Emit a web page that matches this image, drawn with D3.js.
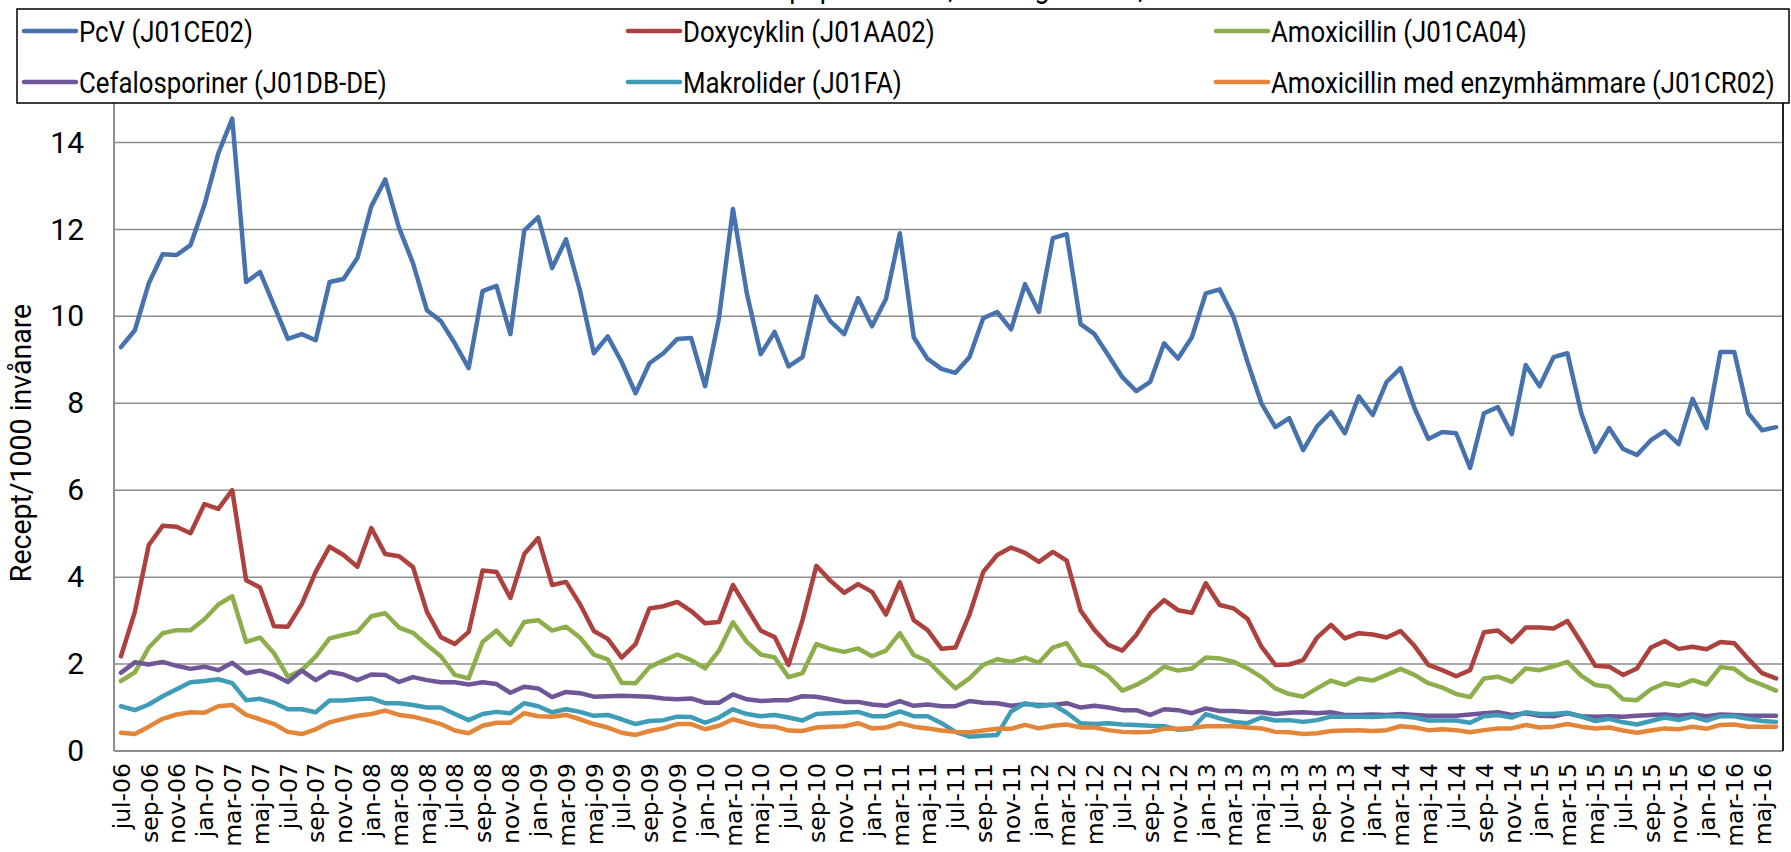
<!DOCTYPE html>
<html>
<head>
<meta charset="utf-8">
<script src="https://cdn.jsdelivr.net/npm/d3@7"></script>
<style>
  body { margin: 0; background: #fff; }
  svg { display: block; }
  .ytick text, .legend text, .ytitle, .title { font-family: "Roboto", "Liberation Sans", sans-serif; }
  .xaxis text { font-family: "DejaVu Sans", sans-serif; }
</style>
</head>
<body>
<div id="chart"></div>
<script>
// month names + start of the series
const monthNames = ["jan","feb","mar","apr","maj","jun","jul","aug","sep","okt","nov","dec"]
const startMonth = 6, startYear = 2006, nMonths = 120
const yTicks = [0, 2, 4, 6, 8, 10, 12, 14]

const seriesNames = ["PcV (J01CE02)", "Doxycyklin (J01AA02)", "Amoxicillin (J01CA04)",
  "Cefalosporiner (J01DB-DE)", "Makrolider (J01FA)", "Amoxicillin med enzymhämmare (J01CR02)"]

const pcv = [9.29,9.68,10.76,11.43,11.41,11.64,12.56,13.75,14.55,10.79,
  11.02,10.25,9.48,9.59,9.45,10.79,10.86,11.34,12.53,13.15,
  12.03,11.22,10.14,9.89,9.38,8.81,10.58,10.7,9.59,11.98,
  12.28,11.11,11.77,10.6,9.15,9.54,8.95,8.23,8.92,9.15,
  9.48,9.5,8.39,9.96,12.47,10.53,9.13,9.64,8.85,9.06,
  10.46,9.89,9.59,10.42,9.77,10.4,11.91,9.52,9.02,8.79,
  8.7,9.06,9.96,10.1,9.7,10.74,10.1,11.8,11.89,9.82,
  9.59,9.1,8.6,8.28,8.49,9.38,9.03,9.52,10.53,10.62,
  9.98,8.95,8.0,7.45,7.66,6.92,7.47,7.8,7.31,8.16,
  7.73,8.49,8.81,7.89,7.18,7.34,7.31,6.51,7.77,7.91,
  7.29,8.88,8.39,9.06,9.15,7.77,6.88,7.43,6.95,6.81,
  7.15,7.36,7.06,8.1,7.43,9.18,9.18,7.77,7.38,7.45]

const doxy = [2.18,3.2,4.74,5.18,5.16,5.01,5.68,5.57,6.0,3.93,
  3.76,2.87,2.86,3.38,4.12,4.7,4.51,4.24,5.13,4.53,
  4.48,4.23,3.2,2.62,2.46,2.74,4.15,4.12,3.52,4.53,
  4.9,3.82,3.89,3.38,2.76,2.58,2.15,2.46,3.28,3.33,
  3.43,3.22,2.94,2.97,3.82,3.29,2.77,2.62,1.98,3.01,
  4.26,3.92,3.64,3.84,3.66,3.14,3.88,3.01,2.78,2.35,
  2.38,3.13,4.12,4.51,4.68,4.56,4.35,4.58,4.38,3.23,
  2.78,2.44,2.31,2.67,3.17,3.47,3.24,3.18,3.86,3.36,
  3.28,3.04,2.4,1.98,1.99,2.09,2.61,2.9,2.59,2.71,
  2.68,2.61,2.76,2.42,1.98,1.86,1.72,1.86,2.73,2.77,
  2.51,2.84,2.84,2.82,2.99,2.49,1.96,1.94,1.75,1.9,
  2.38,2.53,2.35,2.4,2.34,2.51,2.48,2.12,1.79,1.67]

const amox = [1.61,1.81,2.38,2.71,2.78,2.78,3.03,3.37,3.56,2.51,
  2.61,2.25,1.71,1.86,2.17,2.59,2.67,2.74,3.1,3.17,
  2.84,2.72,2.44,2.18,1.75,1.67,2.51,2.77,2.44,2.97,
  3.01,2.77,2.86,2.61,2.22,2.11,1.57,1.56,1.93,2.08,
  2.22,2.09,1.9,2.31,2.96,2.51,2.22,2.15,1.7,1.79,
  2.46,2.35,2.28,2.36,2.18,2.31,2.71,2.21,2.07,1.75,
  1.44,1.67,1.98,2.11,2.05,2.15,2.03,2.38,2.48,1.99,
  1.93,1.72,1.39,1.52,1.7,1.94,1.85,1.9,2.15,2.13,
  2.05,1.9,1.7,1.44,1.31,1.25,1.44,1.62,1.52,1.67,
  1.62,1.75,1.89,1.75,1.56,1.46,1.31,1.24,1.67,1.71,
  1.59,1.9,1.86,1.95,2.05,1.73,1.52,1.48,1.19,1.17,
  1.42,1.56,1.5,1.63,1.53,1.93,1.89,1.65,1.52,1.39]

const cefa = [1.8,2.04,1.99,2.05,1.96,1.89,1.94,1.86,2.03,1.79,
  1.85,1.75,1.59,1.85,1.63,1.82,1.76,1.63,1.76,1.75,
  1.59,1.7,1.63,1.58,1.58,1.53,1.58,1.54,1.34,1.48,
  1.44,1.24,1.36,1.33,1.25,1.26,1.27,1.26,1.25,1.21,
  1.19,1.21,1.11,1.11,1.3,1.19,1.15,1.17,1.17,1.26,
  1.25,1.19,1.13,1.13,1.07,1.04,1.15,1.04,1.07,1.03,
  1.03,1.15,1.11,1.1,1.04,1.08,1.06,1.06,1.1,1.0,
  1.04,1.0,0.94,0.94,0.83,0.96,0.94,0.87,0.98,0.92,
  0.92,0.9,0.89,0.85,0.88,0.89,0.87,0.89,0.83,0.83,
  0.84,0.83,0.85,0.83,0.81,0.81,0.81,0.84,0.87,0.89,
  0.83,0.87,0.81,0.8,0.87,0.8,0.79,0.8,0.79,0.81,
  0.83,0.84,0.81,0.84,0.8,0.84,0.83,0.81,0.81,0.81]

const makro = [1.03,0.94,1.07,1.26,1.42,1.58,1.61,1.65,1.56,1.17,
  1.2,1.11,0.96,0.96,0.89,1.16,1.16,1.19,1.21,1.1,
  1.1,1.06,1.0,1.0,0.85,0.71,0.85,0.9,0.87,1.1,
  1.03,0.89,0.96,0.9,0.81,0.83,0.73,0.62,0.69,0.71,
  0.79,0.78,0.65,0.77,0.96,0.85,0.8,0.83,0.77,0.7,
  0.85,0.87,0.88,0.9,0.8,0.8,0.91,0.8,0.8,0.64,
  0.44,0.33,0.35,0.37,0.91,1.1,1.03,1.07,0.88,0.64,
  0.62,0.64,0.61,0.6,0.58,0.57,0.49,0.51,0.85,0.75,
  0.67,0.64,0.77,0.7,0.71,0.67,0.71,0.79,0.79,0.79,
  0.78,0.8,0.8,0.77,0.7,0.7,0.7,0.65,0.8,0.83,
  0.77,0.89,0.85,0.85,0.88,0.79,0.69,0.74,0.66,0.61,
  0.69,0.77,0.71,0.79,0.7,0.8,0.8,0.74,0.69,0.67]

const amoxEnz = [0.42,0.39,0.56,0.74,0.84,0.89,0.88,1.03,1.06,0.83,
  0.73,0.62,0.44,0.39,0.5,0.66,0.74,0.81,0.85,0.93,
  0.83,0.79,0.71,0.62,0.47,0.41,0.58,0.65,0.65,0.87,
  0.8,0.79,0.83,0.73,0.62,0.54,0.42,0.37,0.46,0.52,
  0.62,0.62,0.5,0.58,0.73,0.64,0.57,0.56,0.47,0.46,
  0.54,0.56,0.57,0.64,0.52,0.54,0.64,0.56,0.52,0.47,
  0.44,0.43,0.47,0.51,0.51,0.6,0.52,0.58,0.61,0.54,
  0.54,0.48,0.44,0.43,0.44,0.51,0.51,0.53,0.57,0.57,
  0.57,0.54,0.52,0.44,0.43,0.39,0.41,0.46,0.47,0.48,
  0.46,0.48,0.57,0.54,0.48,0.5,0.48,0.43,0.48,0.52,
  0.52,0.6,0.54,0.56,0.62,0.56,0.52,0.54,0.47,0.42,
  0.47,0.52,0.5,0.56,0.51,0.6,0.61,0.56,0.56,0.56]

const colors = ["#4673ad", "#ad413e", "#8caf4c", "#6f5697", "#3f9cb7", "#e3863a"]

// build the month categories jul-06 .. jun-16
let months = []
for (let i = 0; i < nMonths; i++) {
  let m = (startMonth + i) % 12
  let yr = startYear + Math.floor((startMonth + i) / 12)
  months.push(monthNames[m] + "-" + String(yr).slice(2))
}

const allSeries = [pcv, doxy, amox, cefa, makro, amoxEnz]

const W = 1791, H = 852
const plot = {left: 114, right: 1783, top: 99, bottom: 751}

const svg = d3.select("#chart").append("svg").attr("width", W).attr("height", H)

//=========================================/
const x = d3.scalePoint().domain(months).range([plot.left, plot.right]).padding(0.5)
const y = d3.scaleLinear().domain([0, 15]).range([plot.bottom, plot.top])
//=========================================/

// title, only its lower edge shows above the legend
svg.append("text").attr("class", "title")
  .attr("transform", "translate(975,-2) scale(0.9,1)")
  .attr("text-anchor", "middle")
  .style("font-size", "30px")
  .text("Antal recept per månad, samtliga åldrar, hela landet")

// gridlines
svg.append("g").selectAll("line").data(yTicks.filter(d => d > 0)).enter().append("line")
  .attr("x1", plot.left).attr("x2", plot.right)
  .attr("y1", d => y(d)).attr("y2", d => y(d))
  .attr("stroke", "#8e8e8e").attr("stroke-width", 1.5)

// y axis
const yAxis = d3.axisLeft(y).tickValues(yTicks).tickSize(0).tickPadding(30).tickFormat(d3.format("d"))
const yg = svg.append("g").attr("class", "ytick").attr("transform", `translate(${plot.left},0)`).call(yAxis)
yg.select(".domain").remove()
yg.selectAll("text").style("font-size", "30px").attr("fill", "#000")

svg.append("line").attr("x1", plot.left).attr("x2", plot.left).attr("y1", plot.top).attr("y2", plot.bottom)
  .attr("stroke", "#8e8e8e").attr("stroke-width", 2)
svg.append("line").attr("x1", plot.left).attr("x2", plot.right).attr("y1", plot.bottom).attr("y2", plot.bottom)
  .attr("stroke", "#8e8e8e").attr("stroke-width", 2)
svg.append("line").attr("x1", plot.right).attr("x2", plot.right).attr("y1", plot.top).attr("y2", plot.bottom)
  .attr("stroke", "#222").attr("stroke-width", 2)

// x axis, every second month
const xAxis = d3.axisBottom(x).tickValues(months.filter((d, i) => i % 2 == 0)).tickSize(0)
const xg = svg.append("g").attr("class", "xaxis").attr("transform", `translate(0,${plot.bottom})`).call(xAxis)
xg.select(".domain").remove()
xg.selectAll("text")
  .style("font-size", "23.5px").attr("fill", "#000")
  .attr("text-anchor", "end")
  .attr("dy", "0.35em")
  .attr("transform", "translate(0,12) rotate(-90)")
  .attr("x", 0).attr("y", 0)

// y axis title
svg.append("text").attr("class", "ytitle")
  .attr("transform", "translate(31,443) rotate(-90) scale(0.95,1)")
  .attr("text-anchor", "middle")
  .style("font-size", "30px")
  .text("Recept/1000 invånare")

// lines
const line = d3.line().x((d, i) => x(months[i])).y(d => y(d))
svg.append("g").selectAll("path").data(allSeries).enter().append("path")
  .attr("d", d => line(d))
  .attr("fill", "none")
  .attr("stroke", (d, i) => colors[i])
  .attr("stroke-width", 4.5)
  .attr("stroke-linejoin", "round")
  .attr("stroke-linecap", "round")

// legend box
const legend = svg.append("g").attr("class", "legend")
legend.append("rect").attr("x", 17).attr("y", 9).attr("width", 1772).attr("height", 94)
  .attr("fill", "#fff").attr("stroke", "#000").attr("stroke-width", 1.5)

const legCols = [24, 628, 1216], legRows = [31, 82]
const items = legend.selectAll("g.item").data(seriesNames).enter().append("g").attr("class", "item")
  .attr("transform", (d, i) => `translate(${legCols[i % 3]},${legRows[Math.floor(i / 3)]})`)
items.append("line").attr("x1", 0).attr("x2", 52).attr("y1", 0).attr("y2", 0)
  .attr("stroke", (d, i) => colors[i]).attr("stroke-width", 4.5).attr("stroke-linecap", "round")
items.append("text")
  .attr("transform", "translate(55,0) scale(0.86,1)")
  .attr("dy", "0.35em")
  .style("font-size", "30px")
  .text(d => d)
</script>
</body>
</html>
